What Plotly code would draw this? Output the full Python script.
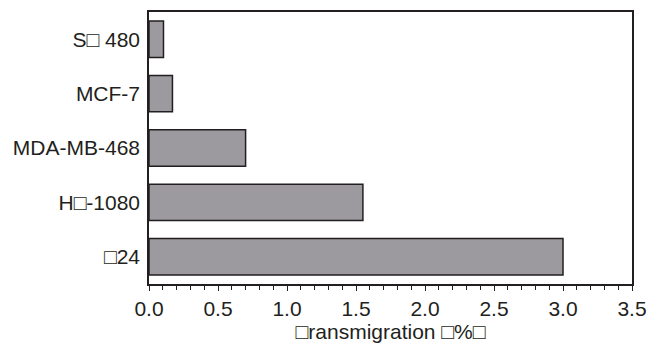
import plotly.graph_objects as go

categories = ["□24", "H□-1080", "MDA-MB-468", "MCF-7", "S□ 480"]
values = [3.0, 1.55, 0.70, 0.17, 0.105]
x_title = "□ransmigration □%□"
x_ticks = [0.0, 0.5, 1.0, 1.5, 2.0, 2.5, 3.0, 3.5]

fig = go.Figure(go.Bar(
    x=values, y=categories, orientation="h",
    marker=dict(color="#9c9a9f", line=dict(color="#231f20", width=1.5)),
))

font = dict(family="Liberation Sans, Arial, sans-serif", size=21, color="#231f20")
fig.update_layout(
    width=659, height=345,
    margin=dict(l=149, r=27, t=10, b=59),
    paper_bgcolor="white", plot_bgcolor="white",
    bargap=0.33, showlegend=False, font=font,
    xaxis=dict(
        range=[0, 3.5], tickvals=x_ticks, tickformat=".1f",
        showgrid=False, zeroline=False,
        showline=True, mirror=True, linecolor="#231f20", linewidth=1.5,
        ticks="outside", ticklen=5, tickwidth=1.2, tickcolor="#231f20",
        minor=dict(dtick=0.1, ticks="outside", ticklen=4, tickwidth=1, tickcolor="#231f20"),
        title=dict(text=x_title, standoff=0, font=font),
        tickfont=font,
    ),
    yaxis=dict(
        showgrid=False, zeroline=False,
        showline=True, mirror=True, linecolor="#231f20", linewidth=1.5,
        ticks="", ticklabelstandoff=3, tickfont=font,
    ),
)

fig.write_html("out.html")
